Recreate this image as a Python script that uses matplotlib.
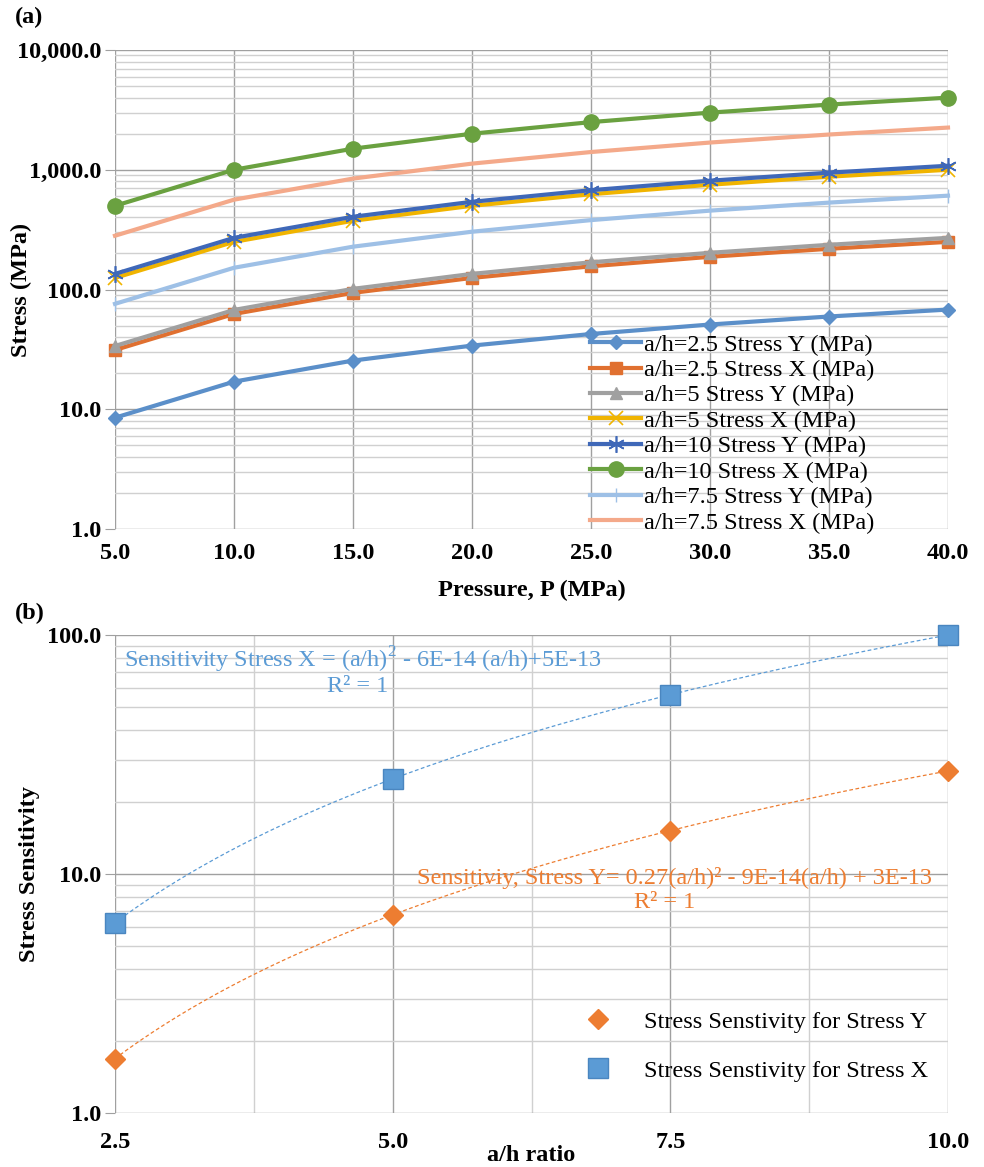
import numpy as np
import matplotlib
matplotlib.use("Agg")
import matplotlib.pyplot as plt
from matplotlib.ticker import FixedLocator, FuncFormatter, NullFormatter

plt.rcParams['font.family'] = ['Liberation Serif', 'DejaVu Serif']
plt.rcParams['mathtext.fontset'] = 'custom'
plt.rcParams['mathtext.rm'] = 'Liberation Serif'

# ---- data, panel (a) ----
pressure = [5, 10, 15, 20, 25, 30, 35, 40]
stress_y_25 = [8.5, 17.0, 25.5, 34.0, 42.5, 51.0, 59.5, 68.0]
stress_x_25 = [31.25, 62.5, 93.75, 125.0, 156.25, 187.5, 218.75, 250.0]
stress_y_5 = [33.75, 67.5, 101.25, 135.0, 168.75, 202.5, 236.25, 270.0]
stress_x_5 = [125.0, 250.0, 375.0, 500.0, 625.0, 750.0, 875.0, 1000.0]
stress_y_10 = [135.0, 270.0, 405.0, 540.0, 675.0, 810.0, 945.0, 1080.0]
stress_x_10 = [500.0, 1000.0, 1500.0, 2000.0, 2500.0, 3000.0, 3500.0, 4000.0]
stress_y_75 = [75.9, 151.9, 227.8, 303.8, 379.7, 455.6, 531.6, 607.5]
stress_x_75 = [281.25, 562.5, 843.75, 1125.0, 1406.25, 1687.5, 1968.75, 2250.0]

# ---- data, panel (b) ----
ratio = [2.5, 5.0, 7.5, 10.0]
sens_y = [1.69, 6.75, 15.19, 27.0]
sens_x = [6.25, 25.0, 56.25, 100.0]

fig = plt.figure(figsize=(9.84, 11.67), dpi=100)

FS = 17.5
major_grid = '#a0a0a0'
minor_grid = '#d0d0d0'


def style_log_axes(ax, lo, hi):
    ax.set_yscale('log')
    ax.set_ylim(lo, hi)
    ax.yaxis.set_major_locator(FixedLocator([10.0 ** k for k in range(int(np.log10(lo)), int(np.log10(hi)) + 1)]))
    minors = [m * 10.0 ** k for k in range(int(np.log10(lo)), int(np.log10(hi))) for m in range(2, 10)]
    ax.yaxis.set_minor_locator(FixedLocator(minors))
    ax.yaxis.set_minor_formatter(NullFormatter())
    ax.yaxis.set_major_formatter(FuncFormatter(lambda v, p: f"{v:,.1f}"))
    ax.grid(True, which='major', color=major_grid, lw=1.0)
    ax.grid(True, which='minor', axis='y', color=minor_grid, lw=1.0)
    ax.set_axisbelow(True)
    for s in ['top', 'right', 'bottom', 'left']:
        ax.spines[s].set_visible(False)
    ax.tick_params(axis='y', which='major', length=7, color=major_grid, labelsize=FS, pad=3)
    ax.tick_params(axis='y', which='minor', length=0)
    ax.tick_params(axis='x', which='both', length=0, labelsize=FS, pad=10)
    for lab in ax.get_xticklabels() + ax.get_yticklabels():
        lab.set_fontweight('bold')


# ---------------- panel (a) ----------------
ax1 = fig.add_axes([115 / 984, 1 - 529 / 1167, 833 / 984, 479 / 1167])
ax1.set_xlim(5, 40)
ax1.set_xticks(pressure)
ax1.xaxis.set_major_formatter(FuncFormatter(lambda v, p: f"{v:.1f}"))

series = [
    (stress_y_25, 'a/h=2.5 Stress Y (MPa)', '#5B8FC9', dict(marker='D', ms=7)),
    (stress_x_25, 'a/h=2.5 Stress X (MPa)', '#E07030', dict(marker='s', ms=9)),
    (stress_y_5, 'a/h=5 Stress Y (MPa)', '#A0A0A0', dict(marker='^', ms=9)),
    (stress_x_5, 'a/h=5 Stress X (MPa)', '#F0B400', dict(marker='x', ms=10, mew=1.2)),
    (stress_y_10, 'a/h=10 Stress Y (MPa)', '#3F68B8', dict(marker=(6, 2, 0), ms=12, mew=1.2)),
    (stress_x_10, 'a/h=10 Stress X (MPa)', '#6AA140', dict(marker='o', ms=11)),
    (stress_y_75, 'a/h=7.5 Stress Y (MPa)', '#9EC0E6', dict(marker='|', ms=10, mew=1.0)),
    (stress_x_75, 'a/h=7.5 Stress X (MPa)', '#F4A98A', dict(marker='')),
]
for vals, lab, col, mk in series:
    ax1.plot(pressure, vals, color=col, lw=3, label=lab, clip_on=False, **mk)

style_log_axes(ax1, 1, 10000)
ax1.set_ylabel('Stress (MPa)', fontsize=FS, fontweight='bold')
ax1.yaxis.set_label_coords(-0.0996, 0.5)
ax1.set_xlabel('Pressure, P (MPa)', fontsize=FS, fontweight='bold')
ax1.xaxis.set_label_coords(0.5, -0.106)

ax1.legend(loc='lower right', bbox_to_anchor=(0.932, -0.045), frameon=False,
           fontsize=FS, handlelength=2.1, handletextpad=0.12,
           labelspacing=0.14, borderpad=0.2)

fig.text(15 / 984, 1 - 17 / 1167, '(a)', fontsize=FS, fontweight='bold', va='center')

# ---------------- panel (b) ----------------
ax2 = fig.add_axes([115 / 984, 1 - 1113 / 1167, 833 / 984, 478 / 1167])
ax2.set_xlim(2.5, 10)
ax2.set_xticks(ratio)
ax2.xaxis.set_minor_locator(FixedLocator([3.75, 6.25, 8.75]))
ax2.xaxis.set_major_formatter(FuncFormatter(lambda v, p: f"{v:.1f}"))
ax2.grid(True, which='minor', axis='x', color=minor_grid, lw=1.0)

xx = np.linspace(2.5, 10, 200)
fit_y = np.polyfit(ratio, sens_y, 2)
fit_x = np.polyfit(ratio, sens_x, 2)
ax2.plot(xx, np.polyval(fit_x, xx), color='#5B9BD5', lw=0.9, ls=(0, (3, 2)))
ax2.plot(xx, np.polyval(fit_y, xx), color='#ED7D31', lw=0.9, ls=(0, (3, 2)))

ax2.plot(ratio, sens_y, ls='none', marker='D', ms=10, color='#ED7D31',
         label='Stress Senstivity for Stress Y', clip_on=False, zorder=5)
ax2.plot(ratio, sens_x, ls='none', marker='s', ms=14, color='#5B9BD5', mec='#4A86C0',
         label='Stress Senstivity for Stress X', clip_on=False, zorder=5)

style_log_axes(ax2, 1, 100)
ax2.tick_params(axis='x', which='both', pad=14)
ax2.set_ylabel('Stress Sensitivity', fontsize=FS, fontweight='bold')
ax2.yaxis.set_label_coords(-0.090, 0.5)
ax2.set_xlabel('a/h ratio', fontsize=FS, fontweight='bold')
ax2.xaxis.set_label_coords(0.5, -0.066)

ax2.legend(loc='lower right', bbox_to_anchor=(0.997, 0.03), frameon=False, fontsize=FS,
           handlelength=2.0, handletextpad=0.9, labelspacing=1.1, borderpad=0.2)

ax2.text(124 / 984, 1 - 660 / 1167, r'Sensitivity Stress X = (a/h)$^{2}$ - 6E-14 (a/h)+5E-13',
         transform=fig.transFigure, color='#5B9BD5', fontsize=FS, va='center', ha='left')
ax2.text(358 / 984, 1 - 686 / 1167, 'R² = 1', transform=fig.transFigure,
         color='#5B9BD5', fontsize=FS, va='center', ha='center')
ax2.text(932 / 984, 1 - 878 / 1167, 'Sensitiviy, Stress Y= 0.27(a/h)² - 9E-14(a/h) + 3E-13',
         transform=fig.transFigure, color='#ED7D31', fontsize=FS, va='center', ha='right')
ax2.text(665 / 984, 1 - 903 / 1167, 'R² = 1', transform=fig.transFigure,
         color='#ED7D31', fontsize=FS, va='center', ha='center')

fig.text(15 / 984, 1 - 613 / 1167, '(b)', fontsize=FS, fontweight='bold', va='center')

fig.savefig('out.png', dpi=100)
